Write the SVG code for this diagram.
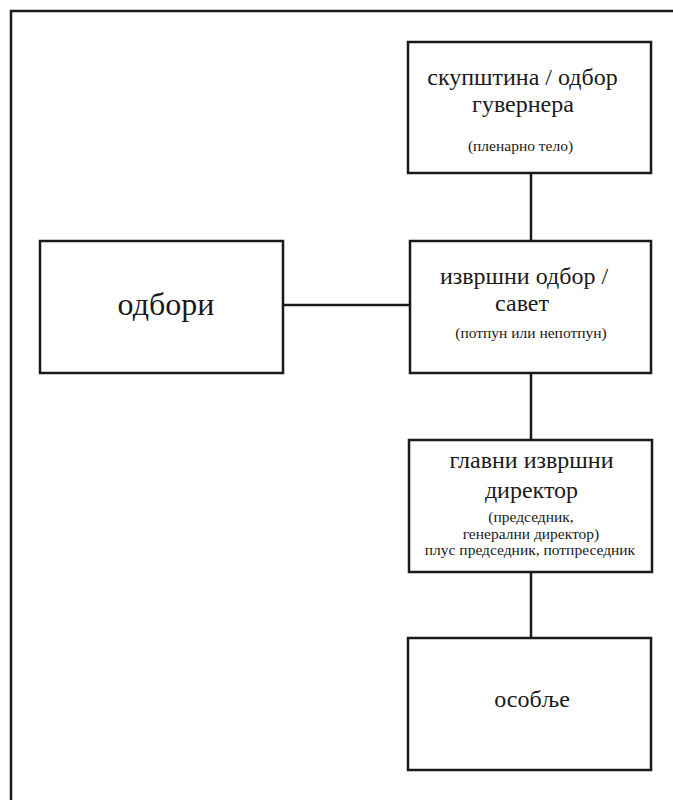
<svg xmlns="http://www.w3.org/2000/svg" width="673" height="800" viewBox="0 0 673 800">
<style>
.box{fill:#fff;stroke:#1a1a1a;stroke-width:2.5}
.ln{stroke:#1a1a1a;stroke-width:2.5;fill:none}
text{font-family:"Liberation Serif","DejaVu Serif",serif;fill:#1a1a1a;text-anchor:middle}
.t1{font-size:24px}
.t2{font-size:15.5px}
.t3{font-size:32px}
</style>
<rect x="0" y="0" width="673" height="800" fill="#fff"/>
<rect x="11" y="11" width="700" height="820" class="ln"/>
<g id="connectors">
<line class="ln" x1="531" y1="173" x2="531" y2="241"/>
<line class="ln" x1="283" y1="305" x2="410" y2="305"/>
<line class="ln" x1="531" y1="373" x2="531" y2="440"/>
<line class="ln" x1="531" y1="572" x2="531" y2="638"/>
</g>
<g id="skupstina">
<rect class="box" x="408" y="42" width="243" height="131"/>
<text class="t1" x="522.5" y="85">скупштина / одбор</text>
<text class="t1" x="523" y="112">гувернера</text>
<text class="t2" x="520.5" y="151">(пленарно тело)</text>
</g>
<g id="odbori">
<rect class="box" x="40" y="241" width="243" height="132"/>
<text class="t3" x="166" y="315">одбори</text>
</g>
<g id="izvrsni">
<rect class="box" x="410" y="241" width="241" height="132"/>
<text class="t1" x="524" y="284">извршни одбор /</text>
<text class="t1" x="522" y="311">савет</text>
<text class="t2" x="531" y="338">(потпун или непотпун)</text>
</g>
<g id="direktor">
<rect class="box" x="409" y="440" width="243" height="132"/>
<text class="t1" x="531.5" y="468">главни извршни</text>
<text class="t1" x="531.5" y="498">директор</text>
<text class="t2" x="531" y="522">(председник,</text>
<text class="t2" x="531" y="539">генерални директор)</text>
<text class="t2" x="530" y="555">плус председник, потпреседник</text>
</g>
<g id="osoblje">
<rect class="box" x="408" y="638" width="243" height="132"/>
<text class="t1" x="532" y="707">особље</text>
</g>
</svg>
